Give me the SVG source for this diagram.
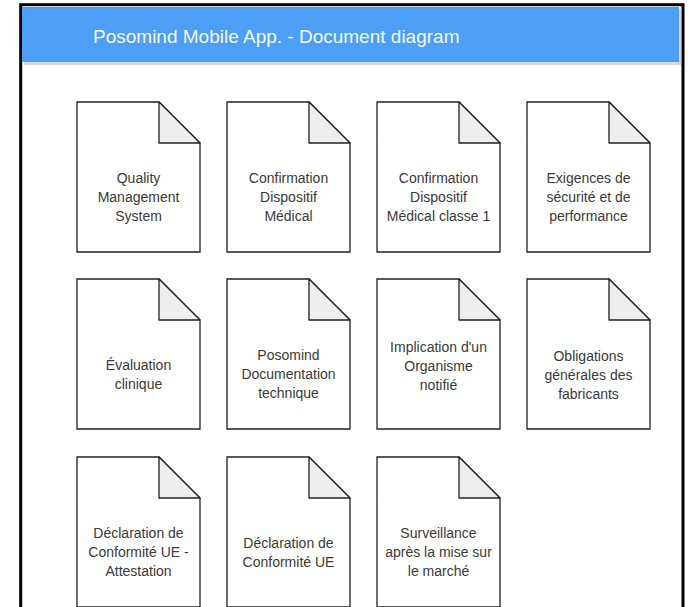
<svg xmlns="http://www.w3.org/2000/svg" width="688" height="607" viewBox="0 0 688 607">
<defs>
<style>
.doc{fill:#ffffff;stroke:#222222;stroke-width:1.3;}
.fold{fill:#eeeeee;stroke:#222222;stroke-width:1.3;stroke-linejoin:round;}
.lbl{font-family:"Liberation Sans",Arial,sans-serif;font-size:14px;fill:#3a3a3a;text-anchor:middle;}
.title{font-family:"Liberation Sans",Arial,sans-serif;font-size:19px;fill:#f4f8ff;}
</style>
<g id="docshape">
<path class="doc" d="M0,0 H82 L123,41 V150 H0 Z"/>
<path class="fold" d="M82,0 V41 H123 Z"/>
</g>
</defs>
<rect x="0" y="0" width="688" height="607" fill="#ffffff"/>
<rect x="20.7" y="4.7" width="662.3" height="620" fill="#ffffff" stroke="#000000" stroke-width="3"/>
<g id="header">
<rect x="24" y="9" width="657" height="56" fill="#bdbdbd" opacity="0.6"/>
<rect x="22" y="7" width="657" height="55" fill="#4c9ff4"/>
<text class="title" x="93" y="43">Posomind Mobile App. - Document diagram</text>
</g>
<g id="connectors"></g>
<g id="n1"><use href="#docshape" x="77" y="102"/>
<text class="lbl"><tspan x="138.5" y="183">Quality</tspan><tspan x="138.5" y="202">Management</tspan><tspan x="138.5" y="221">System</tspan></text></g>
<g id="n2"><use href="#docshape" x="227" y="102"/>
<text class="lbl"><tspan x="288.5" y="183">Confirmation</tspan><tspan x="288.5" y="202">Dispositif</tspan><tspan x="288.5" y="221">Médical</tspan></text></g>
<g id="n3"><use href="#docshape" x="377" y="102"/>
<text class="lbl"><tspan x="438.5" y="183">Confirmation</tspan><tspan x="438.5" y="202">Dispositif</tspan><tspan x="438.5" y="221">Médical classe 1</tspan></text></g>
<g id="n4"><use href="#docshape" x="527" y="102"/>
<text class="lbl"><tspan x="588.5" y="183">Exigences de</tspan><tspan x="588.5" y="202">sécurité et de</tspan><tspan x="588.5" y="221">performance</tspan></text></g>
<g id="n5"><use href="#docshape" x="77" y="279"/>
<text class="lbl"><tspan x="138.5" y="369.5">Évaluation</tspan><tspan x="138.5" y="388.5">clinique</tspan></text></g>
<g id="n6"><use href="#docshape" x="227" y="279"/>
<text class="lbl"><tspan x="288.5" y="360">Posomind</tspan><tspan x="288.5" y="379">Documentation</tspan><tspan x="288.5" y="398">technique</tspan></text></g>
<g id="n7"><use href="#docshape" x="377" y="279"/>
<text class="lbl"><tspan x="438.5" y="352">Implication d'un</tspan><tspan x="438.5" y="371">Organisme</tspan><tspan x="438.5" y="390">notifié</tspan></text></g>
<g id="n8"><use href="#docshape" x="527" y="279"/>
<text class="lbl"><tspan x="588.5" y="361">Obligations</tspan><tspan x="588.5" y="380">générales des</tspan><tspan x="588.5" y="399">fabricants</tspan></text></g>
<g id="n9"><use href="#docshape" x="77" y="457"/>
<text class="lbl"><tspan x="138.5" y="538">Déclaration de</tspan><tspan x="138.5" y="557">Conformité UE -</tspan><tspan x="138.5" y="576">Attestation</tspan></text></g>
<g id="n10"><use href="#docshape" x="227" y="457"/>
<text class="lbl"><tspan x="288.5" y="547.5">Déclaration de</tspan><tspan x="288.5" y="566.5">Conformité UE</tspan></text></g>
<g id="n11"><use href="#docshape" x="377" y="457"/>
<text class="lbl"><tspan x="438.5" y="538">Surveillance</tspan><tspan x="438.5" y="557">après la mise sur</tspan><tspan x="438.5" y="576">le marché</tspan></text></g>
</svg>
